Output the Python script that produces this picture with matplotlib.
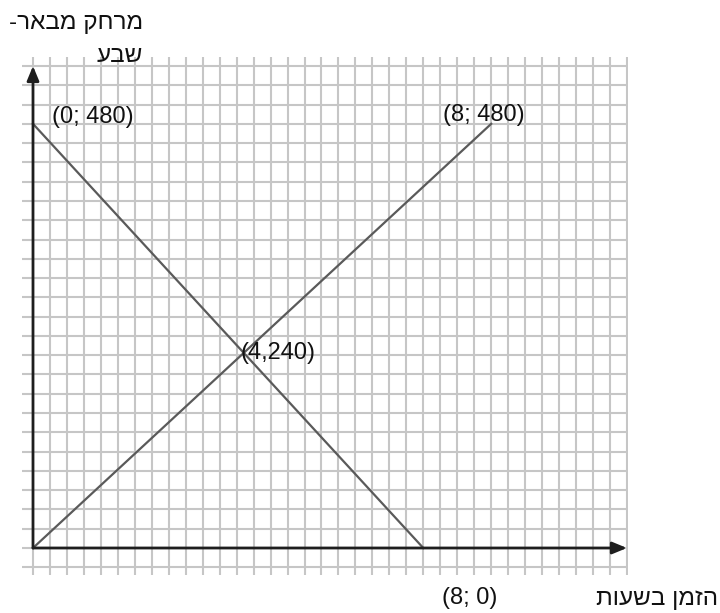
import matplotlib
matplotlib.use("Agg")
import matplotlib.pyplot as plt
from matplotlib.ticker import MultipleLocator

plt.rcParams['font.family'] = ['Liberation Sans', 'DejaVu Sans']

# ---- data (x and y in grid cells, as drawn in the picture) ----
rising_x = [0, 27]
rising_y = [0, 22]
falling_x = [0, 23]
falling_y = [22, 0]

point_labels = ["(0; 480)", "(8; 480)", "(4,240)", "(8; 0)"]
point_xy = [(0, 22), (27, 22), (12.42, 10.12), (23, 0)]
label_offsets = [(13.7, 5.0), (-5.4, 6.5), (-2.2, 0.0), (33.5, -36.0)]
label_ha = ["left", "center", "left", "center"]

y_title_lines = ["מרחק מבאר-", "שבע"]
x_title = "הזמן בשעות"

def rtl(s):
    return s[::-1]

W, H, DPI = 720, 613, 100
fig = plt.figure(figsize=(W / DPI, H / DPI), dpi=DPI)
fig.patch.set_facecolor('white')

# axes spanning the grid area (pixel coords 22..627 x, 57..575 y)
left_px, right_px, top_px, bot_px = 22, 628, 57, 575
ax = fig.add_axes([left_px / W, (H - bot_px) / H,
                   (right_px - left_px) / W, (bot_px - top_px) / H])
cw, ch = 16.97, 19.28
x0_px, y0_px = 33, 548
ax.set_xlim((left_px - x0_px) / cw, (right_px - x0_px) / cw)
ax.set_ylim((y0_px - bot_px) / ch, (y0_px - top_px) / ch)

ax.xaxis.set_major_locator(MultipleLocator(1))
ax.yaxis.set_major_locator(MultipleLocator(1))
ax.grid(True, color='#c6c6c6', linewidth=1.5, zorder=0)
ax.tick_params(length=0, labelbottom=False, labelleft=False)
for sp in ax.spines.values():
    sp.set_visible(False)
ax.set_axisbelow(True)

# data lines
ax.plot(rising_x, rising_y, color='#5a5a5a', linewidth=1.6, zorder=3)
ax.plot(falling_x, falling_y, color='#5a5a5a', linewidth=1.6, zorder=3)

# axes with arrows
arrow_style = '-|>,head_length=0.87,head_width=0.36'
ax.annotate('', xy=(35, 0), xytext=(0, 0),
            arrowprops=dict(arrowstyle=arrow_style, lw=2.0, color='#1e1e1e',
                            shrinkA=0, shrinkB=0), zorder=4)
ax.annotate('', xy=(0, 25), xytext=(0, 0),
            arrowprops=dict(arrowstyle=arrow_style, lw=2.0, color='#1e1e1e',
                            shrinkA=0, shrinkB=0), zorder=4)

# point labels
for lab, xy, off, ha in zip(point_labels, point_xy, label_offsets, label_ha):
    ax.annotate(lab, xy=xy, xytext=off, textcoords='offset points',
                ha=ha, va='center', fontsize=17, color='#111111', zorder=5,
                annotation_clip=False)

# axis titles (Hebrew, right-to-left)
fig.text(143 / W, 1 - 29 / H, rtl(y_title_lines[0]), ha='right', va='baseline',
         fontsize=17.5, color='#111111')
fig.text(143 / W, 1 - 62 / H, rtl(y_title_lines[1]), ha='right', va='baseline',
         fontsize=17.5, color='#111111')
fig.text(718 / W, 1 - 605 / H, rtl(x_title), ha='right', va='baseline',
         fontsize=17.5, color='#111111')

fig.savefig('out.png', dpi=DPI, facecolor='white')
